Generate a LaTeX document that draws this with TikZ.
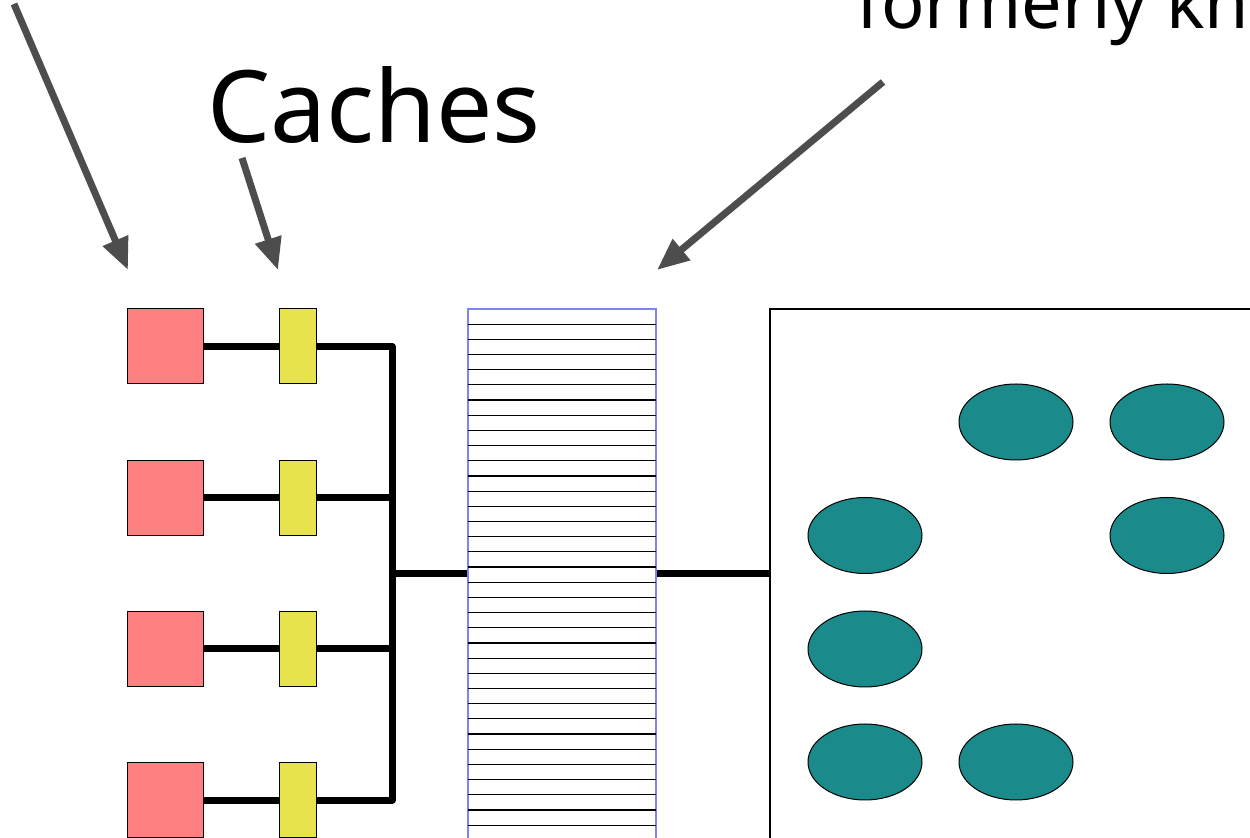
\documentclass[tikz,border=0pt]{standalone}
\usepackage{fontspec}
\setmainfont{Noto Sans}
\usetikzlibrary{arrows.meta,shapes.geometric}
\definecolor{cpured}{HTML}{FF8080}
\definecolor{cacheyel}{HTML}{E6E34C}
\definecolor{teal2}{HTML}{1A8A8A}
\definecolor{memblue}{HTML}{8080F8}
\definecolor{arrgray}{HTML}{4D4D4D}
\tikzset{
  cpu/.style={draw=black,line width=0.5pt,fill=cpured,minimum width=38pt,minimum height=37.5pt,inner sep=0pt},
  cachebox/.style={draw=black,line width=0.5pt,fill=cacheyel,minimum width=18.75pt,minimum height=37.5pt,inner sep=0pt},
  proc/.style={ellipse,draw=black,line width=0.5pt,fill=teal2,minimum width=57pt,minimum height=38pt,inner sep=0pt},
  wire/.style={line width=3.5pt,line join=round,line cap=butt},
  pointer/.style={draw=arrgray,line width=3.5pt,-{Triangle[length=16pt,width=13pt]}},
  bigtext/.style={font=\fontsize{50}{60}\selectfont,inner sep=0pt,anchor=base west},
  midtext/.style={font=\fontsize{36}{43}\selectfont,inner sep=0pt,anchor=base west},
}
\begin{document}
\begin{tikzpicture}[x=0.5pt,y=-0.5pt]
\useasboundingbox (0,0) rectangle (1250,838);
\clip (0,0) rectangle (1250,838);
\fill[white] (0,0) rectangle (1250,838);

% texts
\node[bigtext] (caches) at (207,143) {Caches};
\node[midtext] (formerly) at (856,29) {formerly kn};

% processors and caches
\foreach \i/\y in {1/346.5,2/497.7,3/648.9,4/800.1}{
  \node[cpu] (cpu\i) at (165,\y) {};
  \node[cachebox] (c\i) at (297.8,\y) {};
  \coordinate (b\i) at (392,\y);
}

% memory column
\node[draw=memblue,line width=0.7pt,minimum width=94pt,minimum height=265.5pt,inner sep=0pt] (mem) at (562,574.5) {};
\foreach \k in {1,...,34}{
  \draw[line width=0.6pt] (468,309+\k*15.18) -- (656,309+\k*15.18);
}
\draw[draw=memblue,line width=0.7pt] (mem.north west) rectangle (mem.south east);

% big box
\node[draw=black,line width=0.6pt,minimum width=265pt,minimum height=295.5pt,inner sep=0pt] (dsm) at (1035,604.5) {};

% ellipses
\node[proc] (p1) at (1016,422) {};
\node[proc] (p2) at (1167,422) {};
\node[proc] (p3) at (865,535.5) {};
\node[proc] (p4) at (1167,535.5) {};
\node[proc] (p5) at (865,649) {};
\node[proc] (p6) at (865,762) {};
\node[proc] (p7) at (1016,762) {};

% wires
\foreach \i in {1,...,4}{
  \draw[wire] (cpu\i.east) -- (c\i.west);
}
\draw[wire] (c1.east) -- (b1) -- (b4) -- (c4.east);
\draw[wire] (c2.east) -- (b2);
\draw[wire] (c3.east) -- (b3);
\coordinate (bm) at (392,573.5);
\draw[wire] (bm) -- (bm -| mem.west);
\draw[wire] (mem.east |- bm) -- (dsm.west |- bm);

% arrows
\coordinate (a1s) at (14,4);
\coordinate (a1e) at (128,270);
\coordinate (a2s) at (242,158);
\coordinate (a2e) at (278,270);
\coordinate (a3s) at (883,82);
\coordinate (a3e) at (657,270);
\draw[pointer] (a1s) -- (a1e);
\draw[pointer] (a2s) -- (a2e);
\draw[pointer] (a3s) -- (a3e);
\end{tikzpicture}
\end{document}
